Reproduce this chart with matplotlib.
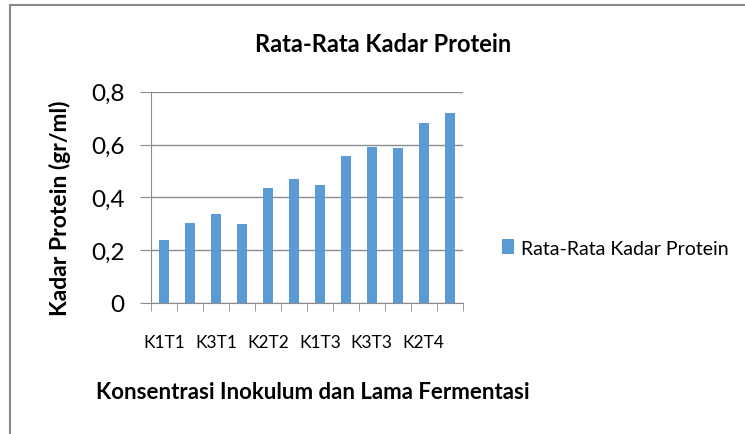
import numpy as np
import matplotlib.pyplot as plt
from matplotlib.patches import Rectangle

# data
categories = ['K1T1', 'K2T1', 'K3T1', 'K1T2', 'K2T2', 'K3T2',
              'K1T3', 'K2T3', 'K3T3', 'K1T4', 'K2T4', 'K3T4']
protein = [0.239, 0.303, 0.338, 0.299, 0.435, 0.471,
           0.446, 0.557, 0.592, 0.587, 0.683, 0.718]
y_ticks = [0, 0.2, 0.4, 0.6, 0.8]
y_labels = ['0', '0,2', '0,4', '0,6', '0,8']

plt.rcParams['font.family'] = ['Lato', 'DejaVu Sans']
grid_col = '#8c8c8c'

fig = plt.figure(figsize=(7.45, 4.35), dpi=100)
ax = fig.add_axes([151 / 745, 1 - 304 / 435, (462.7 - 151) / 745, (304 - 92.7) / 435])

# outer chart frame (cut off on the right and bottom like the screenshot)
fig.patches.append(Rectangle((10 / 745, -0.05), 1.1, 1 - 6 / 435 + 0.05,
                             transform=fig.transFigure, fill=False,
                             edgecolor='#8a8a8a', linewidth=1.5))

x = np.arange(len(categories))
ax.bar(x, protein, width=0.38, color='#5b9bd5', label='Rata-Rata Kadar Protein', zorder=3)

ax.set_xlim(-0.5, len(categories) - 0.5)
ax.set_ylim(0, 0.8)
ax.set_yticks(y_ticks)
ax.set_yticklabels(y_labels, fontsize=17.5)
ax.yaxis.grid(True, color=grid_col, linewidth=1, zorder=0)
ax.tick_params(axis='y', length=8, color=grid_col, pad=11)

# category labels every other bar, tick marks on the category boundaries
ax.set_xticks(x[::2])
ax.set_xticklabels(categories[::2], fontsize=12.5)
ax.tick_params(axis='x', length=0, pad=22)
ax.set_xticks(np.arange(len(categories) + 1) - 0.5, minor=True)
ax.tick_params(axis='x', which='minor', length=6, color=grid_col)

for side in ['top', 'right']:
    ax.spines[side].set_visible(False)
ax.spines['left'].set_color(grid_col)
ax.spines['bottom'].set_color(grid_col)

fig.text(383 / 745, 1 - 44 / 435, 'Rata-Rata Kadar Protein', ha='center', va='center',
         fontsize=17, fontweight='bold')
fig.text(313 / 745, 1 - 393 / 435, 'Konsentrasi Inokulum dan Lama Fermentasi',
         ha='center', va='center', fontsize=16, fontweight='bold')
fig.text(60 / 745, 1 - 208 / 435, 'Kadar Protein (gr/ml)', ha='center', va='center',
         rotation=90, fontsize=16.5, fontweight='bold')

fig.legend(loc='center left', bbox_to_anchor=(502 / 745, 1 - 249 / 435), frameon=False,
           fontsize=14, handlelength=0.6, handleheight=0.8, handletextpad=0.4,
           borderpad=0, borderaxespad=0)

fig.savefig('out.png', dpi=100)
